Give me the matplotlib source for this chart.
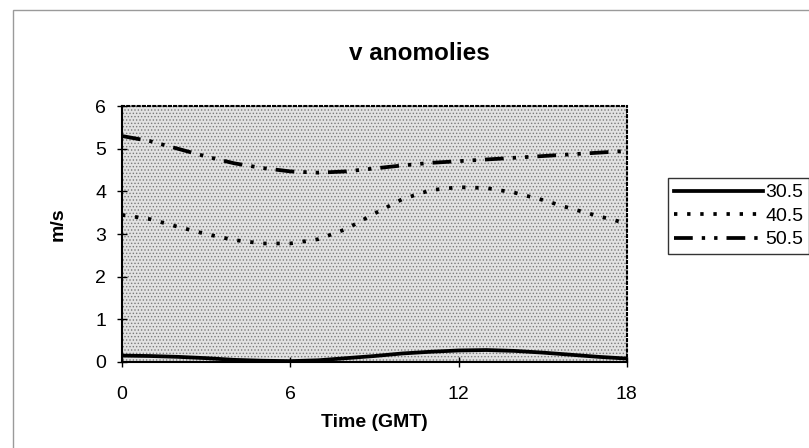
import matplotlib
matplotlib.use('Agg')
import matplotlib.pyplot as plt
from matplotlib.patches import Rectangle

plt.rcParams['font.family'] = ['Liberation Sans', 'DejaVu Sans']
plt.rcParams['hatch.color'] = '#7a7a7a'
plt.rcParams['hatch.linewidth'] = 0.6

# hourly values, Time (GMT)
horas = list(range(19))
v_30_5 = [0.15, 0.14, 0.12, 0.09, 0.05, 0.03, 0.02, 0.04, 0.09, 0.14, 0.20, 0.24,
          0.27, 0.28, 0.26, 0.22, 0.17, 0.12, 0.08]
v_40_5 = [3.45, 3.35, 3.17, 3.00, 2.86, 2.78, 2.78, 2.88, 3.12, 3.48, 3.82, 4.03,
          4.10, 4.08, 3.97, 3.80, 3.60, 3.42, 3.25]
v_50_5 = [5.30, 5.18, 5.00, 4.82, 4.66, 4.55, 4.47, 4.44, 4.47, 4.54, 4.61, 4.67,
          4.71, 4.75, 4.79, 4.83, 4.87, 4.91, 4.95]
series_nomes = ['30.5', '40.5', '50.5']

fig = plt.figure(figsize=(8.09, 4.48), dpi=100)
ax = fig.add_axes([0.1508, 0.192, 0.624, 0.571])

# fundo pontilhado da area do grafico
ax.set_facecolor('#e2e2e2')
ax.add_patch(Rectangle((0, 0), 1, 1, transform=ax.transAxes, facecolor='none',
                       edgecolor='#7a7a7a', hatch='.....', lw=0, zorder=0))

ax.plot(horas, v_30_5, color='black', lw=2.7, label=series_nomes[0], zorder=3)
ax.plot(horas, v_40_5, color='black', lw=2.7, linestyle=(0, (0.9, 2.6)),
        label=series_nomes[1], zorder=3)
ax.plot(horas, v_50_5, color='black', lw=2.7,
        linestyle=(0, (5, 2.4, 0.9, 2.4, 0.9, 2.4)), label=series_nomes[2], zorder=3)

ax.set_xlim(0, 18)
ax.set_ylim(0, 6)
ax.set_xticks([0, 6, 12, 18])
ax.set_yticks(range(7))
ax.tick_params(direction='inout', length=7, width=1, labelsize=14)
ax.tick_params(axis='x', pad=14)
ax.tick_params(axis='y', pad=8)

for lado in ['top', 'right']:
    ax.spines[lado].set_linestyle((0, (1, 1.5)))
    ax.spines[lado].set_linewidth(1.5)
for lado in ['left', 'bottom']:
    ax.spines[lado].set_linewidth(1.5)

fig.text(419 / 809, 1 - 53 / 448, 'v anomolies', fontsize=17.5, fontweight='bold',
         ha='center', va='center')
ax.set_xlabel('Time (GMT)', fontsize=14, fontweight='bold', labelpad=8)
ax.set_ylabel('m/s', fontsize=14, fontweight='bold')
ax.yaxis.set_label_coords(-0.109, 0.54)

leg = fig.legend(loc='upper left', bbox_to_anchor=(668 / 809, 1 - 178 / 448),
                 fontsize=14, frameon=True, fancybox=False, handlelength=4.6,
                 handletextpad=0.1, borderpad=0.3, labelspacing=0.3,
                 borderaxespad=0)
leg.get_frame().set_edgecolor('black')
leg.get_frame().set_linewidth(1)

# moldura externa do grafico
fig.add_artist(Rectangle((13 / 809, -0.05), 1.1, 1 - 10 / 448 + 0.05,
                         transform=fig.transFigure, facecolor='none',
                         edgecolor='#9a9a9a', lw=1))

fig.savefig('out.png', dpi=100)
